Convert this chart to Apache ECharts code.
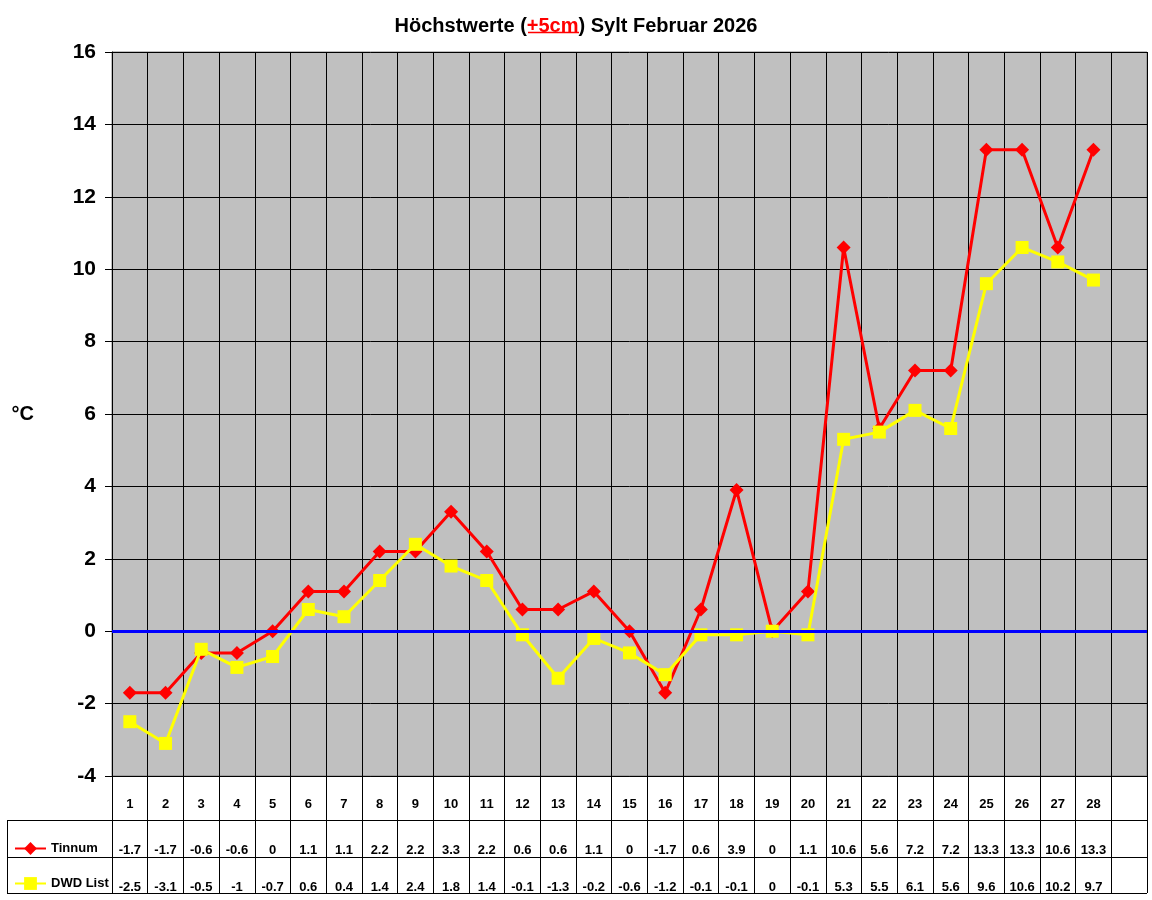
<!DOCTYPE html>
<html>
<head>
<meta charset="utf-8">
<title>Höchstwerte Sylt Februar 2026</title>
<script src="https://cdn.jsdelivr.net/npm/echarts@6/dist/echarts.min.js"></script>
<style>
html, body {margin: 0; padding: 0; background: #fff;}
#chart {width: 1152px; height: 900px;}
</style>
</head>
<body>
<div id="chart"></div>
<script>
// Tage (letzte Spalte leer)
var days = ['1','2','3','4','5','6','7','8','9','10','11','12','13','14','15','16','17','18','19','20','21','22','23','24','25','26','27','28',''];
var tinnum = [-1.7,-1.7,-0.6,-0.6,0,1.1,1.1,2.2,2.2,3.3,2.2,0.6,0.6,1.1,0,-1.7,0.6,3.9,0,1.1,10.6,5.6,7.2,7.2,13.3,13.3,10.6,13.3];
var dwdList = [-2.5,-3.1,-0.5,-1,-0.7,0.6,0.4,1.4,2.4,1.8,1.4,-0.1,-1.3,-0.2,-0.6,-1.2,-0.1,-0.1,0,-0.1,5.3,5.5,6.1,5.6,9.6,10.6,10.2,9.7];
var seriesNames = ['Tinnum', 'DWD List'];
var yTicks = [-4, 16, 2]; // min, max, interval

var FONT = 'Liberation Sans, Arial, sans-serif';

// Wert aus Tabelle holen, leere Spalte bleibt leer
function cell(arr, idx){
	return idx < arr.length ? String(arr[idx]) : '';
}

function tableAxis(arr, margin, show){
	return {
		type: 'category',
		position: 'bottom',
		gridIndex: 0,
		data: days,
		boundaryGap: true,
		axisLine: {show: show, onZero: false, lineStyle: {color: '#000', width: 1}},
		axisTick: {show: show, interval: 0, length: 117, lineStyle: {color: '#000', width: 1}},
		splitLine: {show: show, interval: 0, lineStyle: {color: '#000', width: 1}},
		axisLabel: {
			interval: 0, margin: margin, color: '#000', fontFamily: FONT, fontWeight: 'bold', fontSize: 13,
			formatter: function(v, i){ return arr ? cell(arr, i) : v; }
		}
	};
}

var option = {
	animation: false,
	backgroundColor: '#fff',
	title: {
		left: 'center', top: 11,
		text: '{a|Höchstwerte (}{r|+5cm}{a|) Sylt Februar 2026}',
		textStyle: {
			rich: {
				a: {fontFamily: FONT, fontWeight: 'bold', fontSize: 20, color: '#000'},
				r: {fontFamily: FONT, fontWeight: 'bold', fontSize: 20, color: '#ff0000'}
			}
		}
	},
	legend: {
		data: seriesNames,
		orient: 'vertical', left: 9, top: 837,
		itemWidth: 31, itemHeight: 16, itemGap: 22,
		textStyle: {fontFamily: FONT, fontWeight: 'bold', fontSize: 13, color: '#000'}
	},
	grid: {
		left: 112, right: 5, top: 52, bottom: 124,
		containLabel: false, outerBoundsMode: 'none',
		show: true, backgroundColor: '#c0c0c0', borderColor: '#808080', borderWidth: 1
	},
	xAxis: [
		tableAxis(null, 22, true),
		tableAxis(tinnum, 68, false),
		tableAxis(dwdList, 105, false)
	],
	yAxis: {
		type: 'value',
		min: yTicks[0], max: yTicks[1], interval: yTicks[2],
		name: '°C', nameLocation: 'middle', nameRotate: 0, nameGap: 78,
		nameTextStyle: {fontFamily: FONT, fontWeight: 'bold', fontSize: 20, color: '#000'},
		axisLine: {show: true, onZero: false, lineStyle: {color: '#000'}},
		axisTick: {show: true, length: 7, lineStyle: {color: '#000'}},
		splitLine: {show: true, lineStyle: {color: '#000', width: 1}},
		axisLabel: {margin: 16, color: '#000', fontFamily: FONT, fontWeight: 'bold', fontSize: 21}
	},
	series: [
		{
			// Nulllinie
			type: 'line', data: [], z: 1, silent: true,
			markLine: {
				silent: true, symbol: 'none', label: {show: false},
				lineStyle: {color: '#0000ff', width: 3, type: 'solid'},
				data: [{yAxis: 0}]
			}
		},
		{
			name: seriesNames[0], type: 'line', data: tinnum, z: 3,
			color: '#ff0000',
			symbol: 'diamond', symbolSize: 14,
			lineStyle: {color: '#ff0000', width: 3},
			itemStyle: {color: '#ff0000'}
		},
		{
			name: seriesNames[1], type: 'line', data: dwdList, z: 4,
			color: '#ffff00',
			symbol: 'rect', symbolSize: 13,
			lineStyle: {color: '#ffff00', width: 3},
			itemStyle: {color: '#ffff00'}
		}
	],
	graphic: [
		// Unterstreichung im Titel
		{type: 'line', shape: {x1: 528, y1: 32.5, x2: 579, y2: 32.5}, style: {stroke: '#ff0000', lineWidth: 1.5}},
		// Tabellenrahmen
		{type: 'line', shape: {x1: 7, y1: 820.5, x2: 1147, y2: 820.5}, style: {stroke: '#000', lineWidth: 1}},
		{type: 'line', shape: {x1: 7, y1: 857.5, x2: 1147, y2: 857.5}, style: {stroke: '#000', lineWidth: 1}},
		{type: 'line', shape: {x1: 7, y1: 893.5, x2: 1147, y2: 893.5}, style: {stroke: '#000', lineWidth: 1}},
		{type: 'line', shape: {x1: 7.5, y1: 820, x2: 7.5, y2: 894}, style: {stroke: '#000', lineWidth: 1}}
	]
};

var myChart = echarts.init(document.getElementById('chart'));
myChart.setOption(option);
</script>
</body>
</html>
